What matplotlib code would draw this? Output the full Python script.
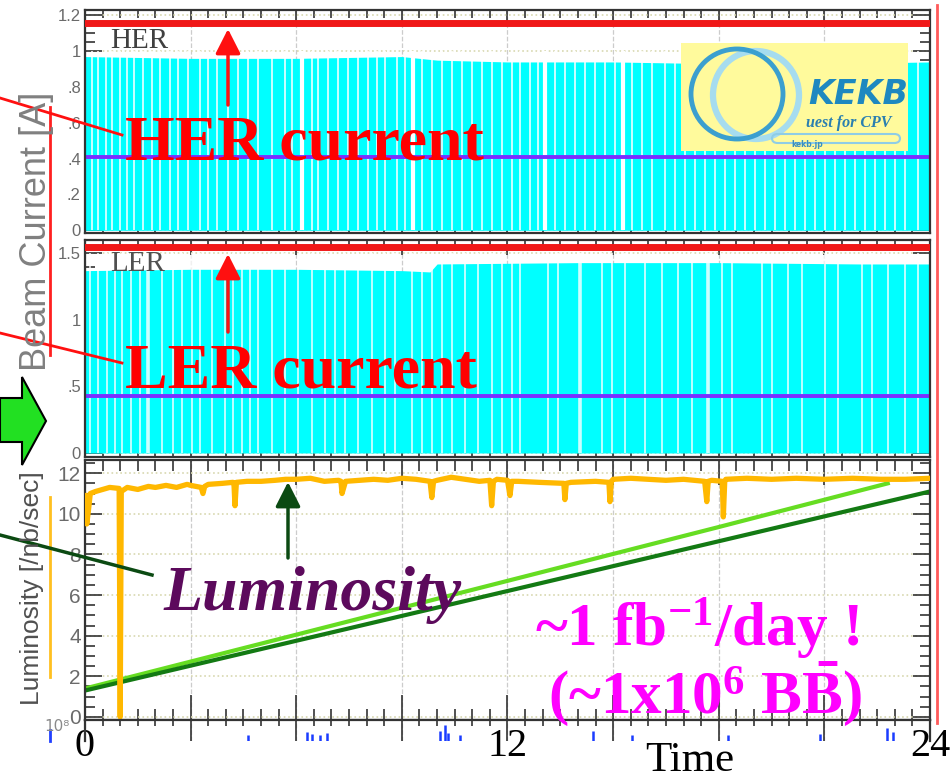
import matplotlib
matplotlib.use("Agg")
import matplotlib.pyplot as plt
from matplotlib.lines import Line2D
from matplotlib.patches import Rectangle, Ellipse, Polygon, FancyArrowPatch, FancyBboxPatch
from matplotlib.ticker import MultipleLocator

plt.rcParams['mathtext.fontset'] = 'custom'
plt.rcParams['mathtext.rm'] = 'Liberation Serif:bold'
plt.rcParams['mathtext.bf'] = 'Liberation Serif:bold'
plt.rcParams['mathtext.it'] = 'Liberation Serif:bold:italic'

W, H = 951, 780

# ---------------- DATA (hours / amperes / nb^-1 s^-1) ----------------
her_env_t = [0, 3, 6, 9, 10, 12, 15, 18, 21, 24]
her_env = [0.97, 0.96, 0.96, 0.97, 0.95, 0.94, 0.94, 0.93, 0.93, 0.94]
her_gaps = [0.19, 0.38, 0.59, 0.76, 0.99, 1.18, 1.40, 1.66, 1.89, 2.13, 2.41, 2.65,
            2.93, 3.27, 3.50, 3.74, 4.07, 4.35, 4.64, 4.92, 5.30, 5.68, 5.87, 6.44,
            6.63, 6.91, 7.19, 7.48, 7.76, 8.05, 8.28, 8.52, 8.85, 9.09, 9.56, 9.85,
            10.13, 10.41, 10.70, 10.98, 11.27, 11.55, 11.83, 12.12, 12.36, 12.64,
            12.88, 13.35, 13.63, 13.92, 14.20, 14.49, 14.77, 15.05, 15.53, 15.81,
            16.10, 16.47, 16.76, 17.04, 17.33, 17.61, 17.89, 18.18, 18.46, 18.75,
            19.03, 19.31, 19.60, 19.88, 20.17, 20.45, 20.73, 21.02, 21.30, 21.59,
            21.87, 22.15, 22.44, 22.72, 23.01, 23.29, 23.67]
her_wide_gaps = [6.15, 9.33, 13.07, 15.29]
her_red_t = [0, 24]
her_red = [1.16, 1.16]
her_purple = [0.41, 0.41]

ler_env_t = [0, 3, 6, 9, 9.8, 10, 14, 18, 22, 24]
ler_env = [1.37, 1.38, 1.38, 1.37, 1.36, 1.42, 1.43, 1.43, 1.42, 1.42]
ler_gaps = [0.14, 0.38, 0.62, 0.85, 1.04, 1.30, 1.55, 2.18, 2.50, 2.75, 3.03, 3.27,
            3.60, 3.98, 4.20, 4.45, 4.70, 4.92, 5.30, 5.68, 6.06, 6.44, 6.82, 7.10,
            7.38, 7.76, 8.14, 8.52, 8.80, 9.28, 9.56, 9.85, 10.13, 10.41, 10.79,
            11.17, 11.55, 11.83, 12.12, 12.36, 13.16, 13.44, 14.68, 14.96, 15.34,
            15.91, 16.38, 16.85, 17.23, 18.08, 18.37, 19.22, 19.50, 19.98, 20.36,
            21.02, 21.40, 22.06, 22.34, 22.82, 23.29, 23.67]
ler_wide_gaps = [1.80, 14.06, 17.70]
ler_red_t = [0, 24]
ler_red = [1.55, 1.55]
ler_purple = [0.43, 0.43]

lum_t = [0.0, 0.05, 0.1, 0.15, 0.3, 0.5, 0.7, 0.97, 1.0, 1.03, 1.2, 1.5, 1.8, 2.0,
         2.3, 2.6, 2.9, 3.0, 3.3, 3.35, 3.4, 3.5, 3.9, 4.2, 4.23, 4.26, 4.3, 4.6,
         5.0, 5.4, 5.7, 6.0, 6.4, 6.8, 7.2, 7.27, 7.3, 7.4, 7.8, 8.2, 8.6, 9.0,
         9.4, 9.8, 9.85, 9.9, 10.0, 10.4, 10.8, 11.2, 11.5, 11.55, 11.6, 11.7,
         12.0, 12.07, 12.12, 12.3, 12.9, 13.6, 13.63, 13.67, 13.8, 14.5, 14.88,
         14.91, 14.95, 15.0, 15.5, 16.0, 16.5, 17.0, 17.6, 17.66, 17.7, 17.8,
         18.1, 18.13, 18.17, 18.2, 18.8, 19.5, 20.2, 21.0, 21.8, 22.6, 23.3, 24.0]
lum = [10.9, 9.5, 10.2, 11.0, 11.1, 11.2, 11.3, 11.25, 0.0, 11.1, 11.3, 11.2, 11.35,
       11.3, 11.4, 11.3, 11.45, 11.4, 11.3, 11.0, 11.35, 11.45, 11.5, 11.55, 11.5,
       10.4, 11.55, 11.6, 11.6, 11.65, 11.7, 11.7, 11.75, 11.6, 11.65, 11.6, 11.0,
       11.6, 11.65, 11.7, 11.65, 11.75, 11.7, 11.6, 10.8, 11.6, 11.65, 11.8, 11.7,
       11.6, 11.65, 10.4, 11.6, 11.7, 11.65, 10.9, 11.6, 11.6, 11.55, 11.5, 10.7,
       11.5, 11.55, 11.6, 11.55, 10.6, 11.6, 11.7, 11.75, 11.7, 11.65, 11.7, 11.6,
       10.6, 11.6, 11.65, 11.6, 9.85, 11.6, 11.7, 11.75, 11.7, 11.75, 11.7, 11.75,
       11.7, 11.7, 11.75]
int_dark_t = [0, 6, 12, 18, 24]
int_dark = [1.3, 3.75, 6.2, 8.65, 11.1]
int_light_t = [0, 6, 12, 18, 22.8]
int_light = [1.4, 4.05, 6.7, 9.35, 11.5]

strip_t = [4.63, 6.3, 6.45, 6.67, 6.87, 10.08, 10.22, 10.31, 10.65, 14.43, 15.53,
           18.26, 20.87, 22.78, 22.95]
strip_h = [0.3, 0.45, 0.35, 0.3, 0.4, 0.5, 0.75, 0.4, 0.3, 0.5, 0.3, 0.3, 0.35, 0.6, 0.45]

her_yticks = [0, 0.2, 0.4, 0.6, 0.8, 1.0, 1.2]
her_ylabels = ['0', '.2', '.4', '.6', '.8', '1', '1.2']
ler_yticks = [0, 0.5, 1.0, 1.5]
ler_ylabels = ['0', '.5', '1', '1.5']
lum_yticks = [0, 2, 4, 6, 8, 10, 12]
lum_ylabels = ['0', '2', '4', '6', '8', '10', '12']
time_ticks = [0, 3, 6, 9, 12, 15, 18, 21, 24]
time_labels = ['0', '', '', '', '12', '', '', '', '24']


def fx(x):
    return x / W


def fy(y):
    return 1 - y / H


fig = plt.figure(figsize=(W / 100, H / 100), dpi=100)

x0, x1 = 85, 930


def make_ax(top, bottom):
    return fig.add_axes([fx(x0), fy(bottom), (x1 - x0) / W, (bottom - top) / H])


def style(ax, yminor, lab_size):
    ax.set_xlim(0, 24)
    ax.xaxis.set_major_locator(MultipleLocator(3))
    ax.xaxis.set_minor_locator(MultipleLocator(0.5))
    ax.yaxis.set_minor_locator(MultipleLocator(yminor))
    ax.tick_params(axis='both', which='both', direction='in', top=True, right=True,
                   color='#333333', width=1.2)
    ax.tick_params(axis='x', which='major', length=11, labelbottom=False)
    ax.tick_params(axis='x', which='minor', length=6)
    ax.tick_params(axis='y', which='major', length=12, labelsize=lab_size,
                   labelcolor='#6a6a6a', pad=3)
    ax.tick_params(axis='y', which='minor', length=7)
    for s in ax.spines.values():
        s.set_color('#333333')
        s.set_linewidth(1.6)
    ax.grid(True, which='major', axis='y', color='#d8d8b0', linestyle=':', lw=1.2)
    ax.grid(True, which='major', axis='x', color='#cccccc', linestyle='--', lw=0.9)
    ax.set_axisbelow(True)
    for lab in ax.get_yticklabels():
        lab.set_fontfamily('Liberation Sans')


# ---- HER panel
ax1 = make_ax(10, 233)
ax1.set_ylim(-0.015, 1.23)
ax1.set_yticks(her_yticks, labels=her_ylabels)
style(ax1, 0.05, 12)
ax1.fill_between(her_env_t, 0, her_env, color='#00ffff', lw=0, zorder=1)
ax1.vlines(her_gaps, 0, 1.0, color='white', lw=1.3, alpha=0.85, zorder=1.5)
ax1.vlines(her_wide_gaps, 0, 1.0, color='white', lw=3.0, zorder=1.5)
ax1.text(0.72, 1.02, 'HER', fontsize=21, family='Liberation Serif', color='#404040',
         va='baseline', ha='left', zorder=2.5)
ax1.plot(her_red_t, her_purple, color='#7b2fff', lw=2.8, zorder=2)
ax1.plot(her_red_t, her_red, color='#f01818', lw=5, zorder=3)

# ---- LER panel
ax2 = make_ax(240, 457)
ax2.set_ylim(-0.03, 1.6)
ax2.set_yticks(ler_yticks, labels=ler_ylabels)
style(ax2, 0.1, 12)
ax2.fill_between(ler_env_t, 0, ler_env, color='#00ffff', lw=0, zorder=1)
ax2.vlines(ler_gaps, 0, 1.5, color='white', lw=1.3, alpha=0.8, zorder=1.5)
ax2.vlines(ler_wide_gaps, 0, 1.5, color='white', lw=2.6, alpha=0.8, zorder=1.5)
ax2.text(0.72, 1.37, 'LER', fontsize=21, family='Liberation Serif', color='#505050',
         va='baseline', ha='left', zorder=2.5)
ax2.plot(ler_red_t, ler_purple, color='#7b2fff', lw=2.8, zorder=2)
ax2.plot(ler_red_t, ler_red, color='#f01818', lw=5, zorder=3)

# ---- Luminosity panel
ax3 = make_ax(460, 720)
ax3.set_ylim(-0.15, 12.65)
ax3.set_yticks(lum_yticks, labels=lum_ylabels)
style(ax3, 0.5, 15)
ax3.tick_params(axis='x', which='major', length=18)
ax3.tick_params(axis='x', which='minor', length=8)
ax3.plot(lum_t, lum, color='#ffb800', lw=3.8, zorder=3)
ax3.plot(int_light_t, int_light, color='#66dd22', lw=3, zorder=2)
ax3.plot(int_dark_t, int_dark, color='#137a13', lw=3, zorder=2)

# ---- partial 4th panel strip
ax4 = make_ax(720, 741)
ax4.set_xlim(0, 24)
ax4.set_ylim(0, 1)
ax4.set_yticks([])
ax4.spines['bottom'].set_visible(False)
for s in ['top', 'left', 'right']:
    ax4.spines[s].set_color('#333333')
    ax4.spines[s].set_linewidth(1.6)
ax4.set_xticks(time_ticks, labels=time_labels)
ax4.xaxis.set_minor_locator(MultipleLocator(0.5))
ax4.tick_params(axis='x', which='major', bottom=False, top=True, direction='in',
                length=15, color='#333333', width=1.2, labelsize=29, pad=-9)
ax4.tick_params(axis='x', which='minor', bottom=False, top=True, direction='in',
                length=4, color='#333333', width=1.2)
for lab in ax4.get_xticklabels():
    lab.set_fontfamily('Liberation Serif')
ax4.vlines(strip_t, 0, strip_h, color='#1a3cff', lw=1.8)
ax4.grid(True, which='major', axis='x', color='#cccccc', linestyle='--', lw=0.9)

# ---- axis titles and side markers
fig.text(fx(37), fy(231), 'Beam Current [A]', rotation=90, fontsize=26,
         family='Liberation Sans', color='#808080', ha='center', va='center')
fig.text(fx(32), fy(588), 'Luminosity [/nb/sec]', rotation=90, fontsize=19,
         family='Liberation Sans', color='#505050', ha='center', va='center')
fig.text(fx(70), fy(719), '10\u2078', fontsize=11, family='DejaVu Sans',
         color='#8a8a8a', ha='right', va='top')
fig.text(fx(690), fy(771), 'Time', fontsize=31, family='Liberation Serif',
         color='black', ha='center', va='baseline')

fig.add_artist(Line2D([fx(50), fx(50)], [fy(107), fy(355)], color='#ff2020', lw=2))
fig.add_artist(Line2D([fx(50), fx(50)], [fy(497), fy(677)], color='#ffc020', lw=2))
fig.add_artist(Line2D([fx(50), fx(50)], [fy(730), fy(741)], color='#2040ff', lw=2))
fig.add_artist(Line2D([fx(937), fx(937)], [fy(5), fy(723)], color='#ff5a5a', lw=2))

# green block arrow
arrow_pts = [(0, 398), (22, 398), (22, 377), (46, 421), (22, 465), (22, 442), (0, 442)]
fig.add_artist(Polygon([(fx(a), fy(b)) for a, b in arrow_pts], closed=True,
                       facecolor='#22e022', edgecolor='black', lw=1.5,
                       transform=fig.transFigure))

# pointer lines
fig.add_artist(Line2D([fx(0), fx(122)], [fy(98), fy(135)], color='#ff1010', lw=2))
fig.add_artist(Line2D([fx(0), fx(122)], [fy(333), fy(363)], color='#ff1010', lw=2))
fig.add_artist(Line2D([fx(0), fx(152)], [fy(535), fy(575)], color='#0b4a12', lw=2.5))

for (xa, ya, yb, col) in [(228, 105, 29, '#ff1010'), (228, 332, 254, '#ff1010'),
                          (288, 558, 482, '#0b4a12')]:
    fig.add_artist(FancyArrowPatch((fx(xa), fy(ya)), (fx(xa), fy(yb)),
                                   transform=fig.transFigure,
                                   arrowstyle='-|>,head_length=0.75,head_width=0.38',
                                   mutation_scale=20, color=col, lw=2.5,
                                   shrinkA=0, shrinkB=0))

# big annotations
fig.text(fx(125), fy(159), 'HER current', fontsize=46, family='Liberation Serif',
         weight='bold', color='#ff0000', va='baseline')
fig.text(fx(125), fy(388), 'LER current', fontsize=46, family='Liberation Serif',
         weight='bold', color='#ff0000', va='baseline')
fig.text(fx(163), fy(610), 'Luminosity', fontsize=46, family='Liberation Serif',
         weight='bold', style='italic', color='#5c0a5c', va='baseline')
fig.text(fx(535), fy(646), '~1 fb$^{-1}$/day !', fontsize=44,
         family='Liberation Serif', weight='bold', color='#ff00ff', va='baseline')
fig.text(fx(548), fy(713), r'(~1x10$^{6}$ B$\bar{\mathrm{B}}$)', fontsize=44,
         family='Liberation Serif', weight='bold', color='#ff00ff', va='baseline')

# KEKB logo
fig.add_artist(Rectangle((fx(681), fy(151)), 227 / W, 108 / H, transform=fig.transFigure,
                         facecolor='#fffa9c', edgecolor='none'))
fig.add_artist(Ellipse((fx(756), fy(95)), 86 / W, 88 / H, transform=fig.transFigure,
                       facecolor='none', edgecolor='#a6dcef', lw=4.5))
fig.add_artist(Ellipse((fx(737), fy(94)), 92 / W, 90 / H, transform=fig.transFigure,
                       facecolor='none', edgecolor='#3b9fcf', lw=3.5))
fig.add_artist(FancyBboxPatch((fx(772), fy(143)), 128 / W, 9 / H,
                              boxstyle='round,pad=0,rounding_size=0.006',
                              transform=fig.transFigure, facecolor='none',
                              edgecolor='#8fcde6', lw=1.5))
fig.text(fx(808), fy(104), 'KEKB', fontsize=24, family='DejaVu Sans', weight='bold',
         style='italic', color='#1e88c0', va='baseline')
fig.text(fx(806), fy(127), 'uest for CPV', fontsize=11.5, family='Liberation Serif',
         weight='bold', style='italic', color='#2a7fb0', va='baseline')
fig.text(fx(791), fy(147), 'kekb.jp', fontsize=5.5, family='DejaVu Sans',
         weight='bold', color='#3a8fc0', va='baseline')

fig.savefig('out.png', dpi=100)
